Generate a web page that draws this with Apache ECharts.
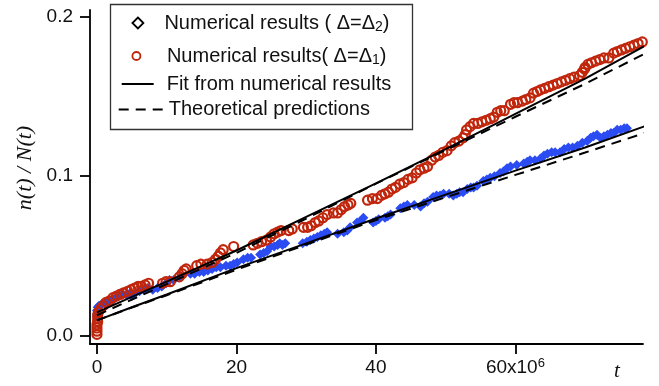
<!DOCTYPE html>
<html>
<head>
<meta charset="utf-8">
<script src="https://cdn.jsdelivr.net/npm/echarts@6/dist/echarts.min.js"></script>
<style>
  html, body { margin: 0; padding: 0; background: #fff; }
  #chart { width: 659px; height: 386px; }
</style>
</head>
<body>
<div id="chart"></div>
<script>
// t in units of 10^6
var xTicks = [0, 20, 40, 60];
var yTicks = [0, 0.1, 0.2];

// numerical results, Delta = Delta_1 (red circles): [t, n/N]
var redPts = [
  [0, 0.001], [0, 0.003], [0, 0.005], [0, 0.007], [0.1, 0.009], [0.1, 0.011], [0.1, 0.013], [0.2, 0.015], [0.5, 0.017], [0.9, 0.019],
  [1.3, 0.021], [1.8, 0.022], [2.3, 0.024], [2.8, 0.025], [3.3, 0.026], [3.8, 0.027], [4.4, 0.028], [4.9, 0.029], [5.4, 0.030], [5.9, 0.031],
  [6.4, 0.031], [6.9, 0.032], [7.4, 0.033], [9.4, 0.033], [9.9, 0.034], [10.5, 0.034], [11.8, 0.037], [12.2, 0.039], [12.5, 0.041], [12.8, 0.042],
  [14.3, 0.044], [14.9, 0.045], [15.8, 0.045], [16.5, 0.046], [17.0, 0.048], [17.4, 0.050], [17.7, 0.052], [18.1, 0.054], [19.6, 0.056], [22.4, 0.057],
  [23.0, 0.058], [23.6, 0.059], [24.3, 0.060], [24.9, 0.062], [25.4, 0.064], [25.9, 0.065], [26.4, 0.066], [27.5, 0.066], [28.0, 0.067], [29.6, 0.068],
  [30.2, 0.068], [30.7, 0.069], [31.3, 0.071], [31.8, 0.072], [32.4, 0.074], [33.0, 0.076], [33.9, 0.077], [34.5, 0.077], [35.0, 0.079], [35.5, 0.081],
  [36.0, 0.082], [36.4, 0.083], [38.8, 0.085], [39.5, 0.086], [40.2, 0.086], [40.8, 0.088], [41.3, 0.089], [41.8, 0.090], [42.3, 0.092], [42.8, 0.093],
  [43.4, 0.095], [44.0, 0.096], [44.6, 0.098], [45.2, 0.099], [45.8, 0.102], [46.3, 0.104], [46.9, 0.105], [47.4, 0.106], [48.0, 0.110], [48.5, 0.112],
  [49.0, 0.113], [49.6, 0.115], [50.2, 0.116], [50.8, 0.119], [51.3, 0.121], [51.9, 0.122], [52.5, 0.124], [52.8, 0.126], [53.0, 0.129], [53.5, 0.131],
  [54.0, 0.133], [54.6, 0.133], [55.2, 0.134], [55.8, 0.135], [56.4, 0.136], [56.9, 0.137], [57.4, 0.140], [57.9, 0.141], [58.4, 0.141], [59.3, 0.145],
  [59.8, 0.146], [60.3, 0.146], [61.0, 0.147], [61.5, 0.148], [62.1, 0.149], [62.6, 0.152], [63.1, 0.153], [63.6, 0.154], [64.2, 0.155], [64.8, 0.156],
  [65.4, 0.157], [66.0, 0.158], [66.6, 0.159], [67.2, 0.160], [67.8, 0.161], [68.4, 0.162], [69.2, 0.163], [69.6, 0.165], [69.9, 0.167], [70.0, 0.168],
  [70.4, 0.170], [70.9, 0.171], [71.5, 0.172], [72.1, 0.173], [72.7, 0.174], [73.4, 0.174], [74.1, 0.177], [74.6, 0.178], [75.2, 0.179], [75.8, 0.180],
  [76.4, 0.181], [77.0, 0.182], [77.6, 0.183], [78.2, 0.184]
];

// numerical results, Delta = Delta_2 (blue diamonds): [t, n/N]
var bluePts = [
  [0, 0.012], [0, 0.014], [0, 0.016], [0.1, 0.018], [0.3, 0.019], [0.7, 0.020], [1.2, 0.021], [1.8, 0.022], [2.4, 0.023], [3.0, 0.025],
  [3.6, 0.026], [4.2, 0.026], [4.8, 0.027], [5.0, 0.025], [5.5, 0.027], [6.1, 0.028], [6.7, 0.029], [7.3, 0.030], [8.0, 0.029], [8.7, 0.030],
  [9.3, 0.031], [9.9, 0.033], [10.4, 0.035], [11.0, 0.035], [12.0, 0.037], [13.4, 0.039], [14.0, 0.039], [14.7, 0.040], [15.3, 0.040], [15.9, 0.041],
  [16.5, 0.042], [17.1, 0.043], [17.7, 0.043], [18.5, 0.044], [19.1, 0.044], [19.6, 0.045], [20.1, 0.046], [21.0, 0.048], [21.6, 0.049], [22.1, 0.049],
  [23.4, 0.051], [23.9, 0.052], [24.4, 0.053], [24.9, 0.056], [25.4, 0.056], [25.9, 0.057], [26.2, 0.058], [26.6, 0.057], [27.0, 0.058], [29.5, 0.058],
  [30.1, 0.059], [30.6, 0.060], [31.1, 0.061], [31.6, 0.062], [32.1, 0.063], [32.6, 0.064], [33.0, 0.065], [34.5, 0.064], [35.4, 0.065], [35.9, 0.066],
  [36.3, 0.068], [37.3, 0.071], [37.8, 0.072], [38.2, 0.074], [39.6, 0.071], [40.0, 0.072], [40.4, 0.073], [41.3, 0.074], [41.7, 0.075], [42.1, 0.076],
  [43.5, 0.080], [44.0, 0.081], [44.5, 0.082], [45.5, 0.082], [46.4, 0.081], [46.9, 0.083], [47.4, 0.084], [48.2, 0.087], [48.7, 0.088], [49.2, 0.088],
  [49.7, 0.089], [50.5, 0.089], [51.1, 0.088], [51.6, 0.089], [52.0, 0.090], [52.5, 0.090], [53.1, 0.092], [53.6, 0.093], [54.0, 0.093], [54.5, 0.094],
  [55.4, 0.097], [55.9, 0.098], [56.4, 0.099], [57.0, 0.100], [57.8, 0.102], [58.3, 0.103], [58.8, 0.105], [59.3, 0.106], [60.2, 0.107], [61.2, 0.108],
  [61.7, 0.109], [62.1, 0.110], [62.8, 0.110], [63.6, 0.111], [64.1, 0.113], [64.6, 0.114], [65.2, 0.115], [65.7, 0.115], [66.4, 0.115], [67.0, 0.117],
  [67.6, 0.118], [68.2, 0.118], [68.9, 0.119], [69.6, 0.121], [70.3, 0.122], [70.8, 0.124], [71.2, 0.125], [71.7, 0.126], [72.2, 0.124], [72.7, 0.125],
  [73.2, 0.126], [73.7, 0.127], [74.1, 0.127], [74.6, 0.129], [75.1, 0.129], [75.6, 0.130], [76.0, 0.130]
];

// fits and theory curves
var curveT = [0, 5, 10, 20, 30, 40, 50, 60, 70, 79];
var fitRed = [0.0148, 0.0245, 0.034, 0.0535, 0.0745, 0.0955, 0.117, 0.139, 0.161, 0.1825];
var fitBlue = [0.0098, 0.018, 0.026, 0.0425, 0.058, 0.0735, 0.0885, 0.1035, 0.118, 0.132];
var theoryRed = [0.013, 0.0228, 0.0325, 0.052, 0.0735, 0.0953, 0.1163, 0.1372, 0.1578, 0.1777];
var theoryBlue = [0.0098, 0.0178, 0.0255, 0.0415, 0.0572, 0.0725, 0.0868, 0.1008, 0.1148, 0.1277];

var NAME_D2 = 'Numerical results ( Δ=Δ2)';
var NAME_D1 = 'Numerical results( Δ=Δ1)';
var NAME_FIT = 'Fit from numerical results';
var NAME_TH = 'Theoretical predictions';

var RED = '#c0260c';
var BLUE = '#2b4cf2';
var FONT = 'Liberation Sans, Arial, sans-serif';

function pairs(xs, ys) {
  return xs.map(function (x, i) { return [x, ys[i]]; });
}

var legendRich = {
  g1: { width: 16 },
  g2: { width: 21.5 },
  g3: { width: 8 },
  g4: { width: 1 },
  m: { fontSize: 20, fontFamily: FONT, color: '#111', lineHeight: 22 },
  sub: { fontSize: 14, fontFamily: FONT, color: '#111', verticalAlign: 'bottom', lineHeight: 14 }
};

function legendText(name) {
  if (name === NAME_D2) return '{g1| }{m|Numerical results ( Δ=Δ}{sub|2}{m|)}';
  if (name === NAME_D1) return '{g2| }{m|Numerical results( Δ=Δ}{sub|1}{m|)}';
  if (name === NAME_FIT) return '{g3| }{m|' + name + '}';
  return '{g4| }{m|' + name + '}';
}

function makeLegend(item, left, top, w, h) {
  return {
    data: [item],
    left: left, top: top,
    itemWidth: w, itemHeight: h,
    padding: 0,
    selectedMode: false,
    formatter: legendText,
    textStyle: { fontSize: 20, fontFamily: FONT, color: '#111', lineHeight: 22, rich: legendRich }
  };
}

var axisStyle = { color: '#000', width: 1.8 };
var hiddenDot = { opacity: 0 };

var myChart = echarts.init(document.getElementById('chart'), null, { renderer: 'canvas' });
var option = {
  animation: false,
  backgroundColor: '#fff',
  grid: { left: 90, right: 16, top: 10, bottom: 42 },
  legend: [
    makeLegend({ name: NAME_D2, icon: 'diamond', itemStyle: { color: '#fff', borderColor: '#000', borderWidth: 1.8 } }, 131.5, 12, 11, 11),
    makeLegend({ name: NAME_D1, icon: 'circle', itemStyle: { color: '#fff', borderColor: RED, borderWidth: 1.8 } }, 131.5, 45, 8, 8),
    makeLegend({ name: NAME_FIT, itemStyle: hiddenDot }, 120.7, 73, 32, 10),
    makeLegend({ name: NAME_TH, itemStyle: hiddenDot }, 117.7, 98.5, 44, 10)
  ],
  xAxis: {
    type: 'value',
    min: -1,
    max: 78.3,
    splitLine: { show: false },
    axisLine: { show: true, onZero: false, lineStyle: axisStyle },
    axisTick: { show: true, inside: false, length: 10, customValues: xTicks, lineStyle: axisStyle },
    axisLabel: {
      customValues: xTicks,
      margin: 13,
      color: '#111',
      fontSize: 19,
      fontFamily: FONT,
      formatter: function (v) {
        if (v === 60) return '{m|60x10}{s|6}';
        return '{m|' + v + '}';
      },
      rich: {
        m: { fontSize: 19, fontFamily: FONT, color: '#111', lineHeight: 22 },
        s: { fontSize: 13, fontFamily: FONT, color: '#111', verticalAlign: 'top', lineHeight: 12 }
      }
    }
  },
  yAxis: {
    type: 'value',
    min: -0.005,
    max: 0.204,
    splitLine: { show: false },
    axisLine: { show: true, onZero: false, lineStyle: axisStyle },
    axisTick: { show: true, inside: false, length: 10, customValues: yTicks, lineStyle: axisStyle },
    axisLabel: {
      customValues: yTicks,
      margin: 17,
      color: '#111',
      fontSize: 19,
      fontFamily: FONT,
      formatter: function (v) { return v.toFixed(1); }
    }
  },
  graphic: [
    {
      type: 'rect',
      shape: { x: 110.5, y: 4.5, width: 302, height: 125 },
      style: { fill: 'none', stroke: '#333', lineWidth: 1.3 },
      z: 10
    },
    {
      type: 'text',
      x: 617, y: 371,
      style: { text: 't', font: 'italic 21px "Liberation Serif", serif', fill: '#111', align: 'center', verticalAlign: 'middle' }
    },
    {
      type: 'text',
      x: 25, y: 168,
      rotation: Math.PI / 2,
      style: { text: 'n(t) / N(t)', font: 'italic 22px "Liberation Serif", serif', fill: '#111', align: 'center', verticalAlign: 'middle' }
    }
  ],
  series: [
    {
      name: NAME_D2,
      type: 'scatter',
      symbol: 'diamond',
      symbolSize: 10,
      clip: false,
      itemStyle: { color: BLUE, opacity: 1 },
      data: bluePts
    },
    {
      name: NAME_D1,
      type: 'scatter',
      symbol: 'circle',
      symbolSize: 9,
      clip: false,
      itemStyle: { color: 'rgba(255,255,255,0)', borderColor: RED, borderWidth: 2.2, opacity: 1 },
      data: redPts
    },
    {
      name: NAME_TH,
      type: 'line',
      symbol: 'none',
      showSymbol: false,
      clip: false,
      lineStyle: { color: '#000', width: 2, type: [10, 7] },
      data: pairs(curveT, theoryRed)
    },
    {
      name: NAME_TH,
      type: 'line',
      symbol: 'none',
      showSymbol: false,
      clip: false,
      lineStyle: { color: '#000', width: 2, type: [10, 7] },
      data: pairs(curveT, theoryBlue)
    },
    {
      name: NAME_FIT,
      type: 'line',
      symbol: 'none',
      showSymbol: false,
      clip: false,
      lineStyle: { color: '#000', width: 2 },
      data: pairs(curveT, fitRed)
    },
    {
      name: NAME_FIT,
      type: 'line',
      symbol: 'none',
      showSymbol: false,
      clip: false,
      lineStyle: { color: '#000', width: 2 },
      data: pairs(curveT, fitBlue)
    }
  ]
};
myChart.setOption(option);
</script>
</body>
</html>
